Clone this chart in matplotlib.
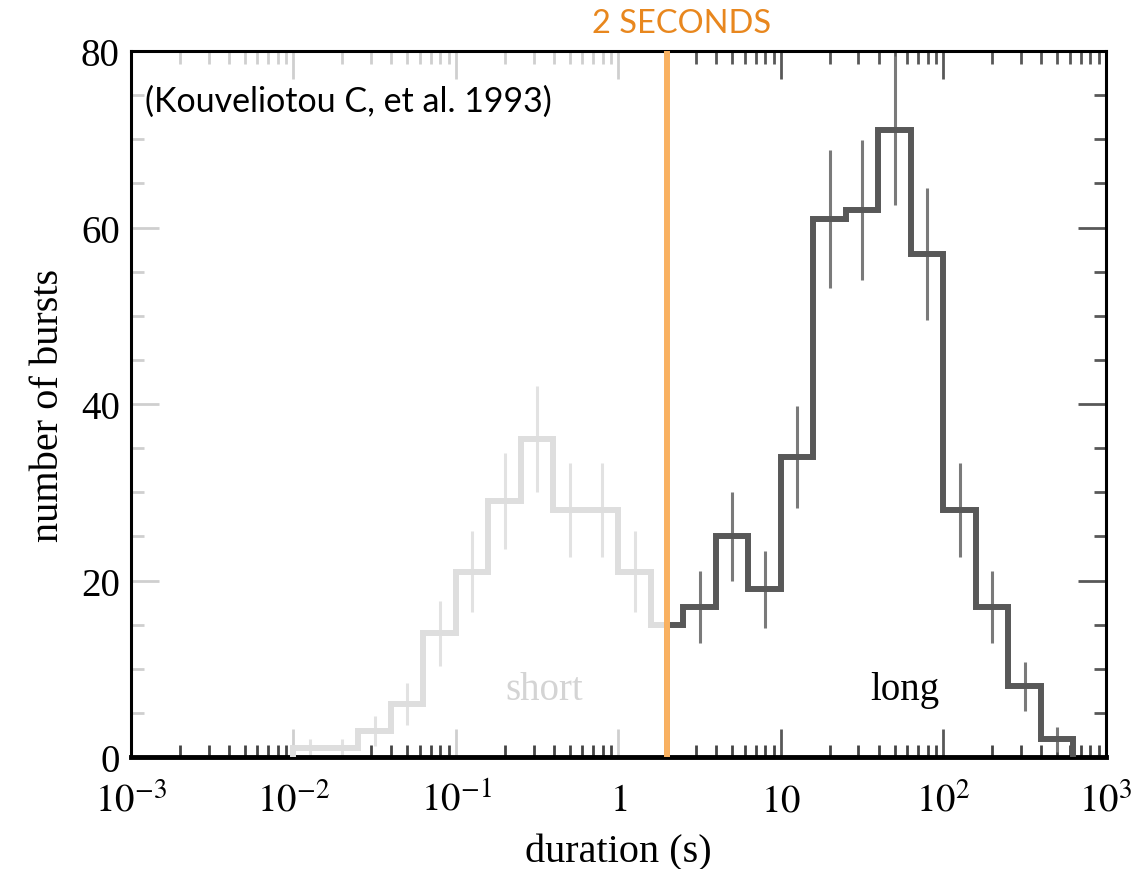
import numpy as np
import matplotlib
matplotlib.use("Agg")
import matplotlib.pyplot as plt
from matplotlib.ticker import FixedLocator, MultipleLocator, LogLocator, NullFormatter

plt.rcParams['font.family'] = 'Liberation Serif'
plt.rcParams['mathtext.fontset'] = 'stix'

# burst duration histogram, bins of 0.2 dex
log_edges = [-2.0, -1.8, -1.6, -1.4, -1.2, -1.0, -0.8, -0.6, -0.4, -0.2, 0.0,
             0.2, 0.4, 0.6, 0.8, 1.0, 1.2, 1.4, 1.6, 1.8, 2.0, 2.2, 2.4, 2.6, 2.8]
counts = [1, 1, 3, 6, 14, 21, 29, 36, 28, 28, 21, 15,
          17, 25, 19, 34, 61, 62, 71, 57, 28, 17, 8, 2]
errors = [1.0, 1.0, 1.7, 2.4, 3.7, 4.6, 5.4, 6.0, 5.3, 5.3, 4.6, 3.9,
          4.1, 5.0, 4.4, 5.8, 7.8, 7.9, 8.4, 7.5, 5.3, 4.1, 2.8, 1.4]
split = 2.0  # seconds

xtick_vals = [1e-3, 1e-2, 1e-1, 1, 10, 1e2, 1e3]
xtick_labels = [r'$10^{-3}$', r'$10^{-2}$', r'$10^{-1}$', r'$1$', r'$10$', r'$10^{2}$', r'$10^{3}$']
ytick_vals = [0, 20, 40, 60, 80]

light = '#dedede'
faded = '#cfcfcf'
dark = '#585858'

edges = 10 ** np.array(log_edges)
counts = np.array(counts)
errors = np.array(errors)
centers = 10 ** ((np.array(log_edges[:-1]) + np.array(log_edges[1:])) / 2)

# split the histogram at 2 s
short_edges = np.append(edges[edges < split], split)
short_counts = counts[:len(short_edges) - 1]
long_edges = np.insert(edges[edges > split], 0, split)
long_counts = counts[len(counts) - (len(long_edges) - 1):]
is_short = centers < split * 0.95

fig = plt.figure(figsize=(11.37, 8.7), dpi=100)
ax = fig.add_axes([0.1152, 0.1287, 0.8575, 0.8115])

ax.errorbar(centers[is_short], counts[is_short], yerr=errors[is_short], fmt='none',
            ecolor='#e2e2e2', elinewidth=2.2, capsize=0, zorder=2)
ax.errorbar(centers[~is_short], counts[~is_short], yerr=errors[~is_short], fmt='none',
            ecolor='#7a7a7a', elinewidth=2.2, capsize=0, zorder=2)
ax.stairs(short_counts, short_edges, color=light, lw=4.3, zorder=3)
ax.stairs(long_counts, long_edges, color=dark, lw=4.3, zorder=3)

ax.axvline(split, color='#f9b161', lw=4.3, zorder=5)

ax.set_xscale('log')
ax.set_xlim(1e-3, 1e3)
ax.set_ylim(0, 80)

ax.xaxis.set_major_locator(FixedLocator(xtick_vals))
ax.set_xticklabels(xtick_labels)
ax.xaxis.set_minor_locator(LogLocator(base=10, subs=np.arange(2, 10)))
ax.xaxis.set_minor_formatter(NullFormatter())
ax.yaxis.set_major_locator(FixedLocator(ytick_vals))
ax.yaxis.set_minor_locator(MultipleLocator(5))

ax.tick_params(which='both', direction='in', top=True, right=True, width=2,
               labelsize=28, colors='black')
ax.tick_params(which='major', length=20)
ax.tick_params(which='minor', length=9)
ax.tick_params(axis='x', which='major', pad=18)
ax.tick_params(axis='y', which='major', pad=8)

for side in ['left', 'right', 'top']:
    ax.spines[side].set_linewidth(2.2)
ax.spines['bottom'].set_linewidth(3.5)

ax.set_xlabel('duration (s)', fontsize=29, labelpad=10)
ax.set_ylabel('number of bursts', fontsize=29, labelpad=10)

ax.text(0.35, 7.7, 'short', fontsize=28, color='#d4d4d4', ha='center', va='center')
ax.text(58, 7.7, 'long', fontsize=28, color='black', ha='center', va='center')
ax.text(0.014, 0.93, '(Kouveliotou C, et al. 1993)', transform=ax.transAxes,
        fontsize=24.5, family='Lato', ha='left', va='center')
ax.annotate('2 SECONDS', xy=(split, 1.04), xycoords=ax.get_xaxis_transform(),
            xytext=(10, 0), textcoords='offset points',
            fontsize=23.5, family='Lato', color='#e8871e', ha='center', va='center')

# fade the ticks on the short side of the plot
fig.canvas.draw()


def paint(line, c):
    line.set_color(c)
    line.set_markeredgecolor(c)


for t in ax.yaxis.get_major_ticks() + ax.yaxis.get_minor_ticks():
    paint(t.tick1line, faded)
    paint(t.tick2line, dark)
locs = ax.xaxis.get_majorticklocs()
for loc, t in zip(locs, ax.xaxis.get_major_ticks(len(locs))):
    c = faded if loc < split else dark
    paint(t.tick1line, c)
    paint(t.tick2line, c)
locs = ax.xaxis.get_minorticklocs()
for loc, t in zip(locs, ax.xaxis.get_minor_ticks(len(locs))):
    paint(t.tick1line, '#444444')
    paint(t.tick2line, faded if loc < split else dark)

plt.savefig('out.png', dpi=100)
plt.close()
